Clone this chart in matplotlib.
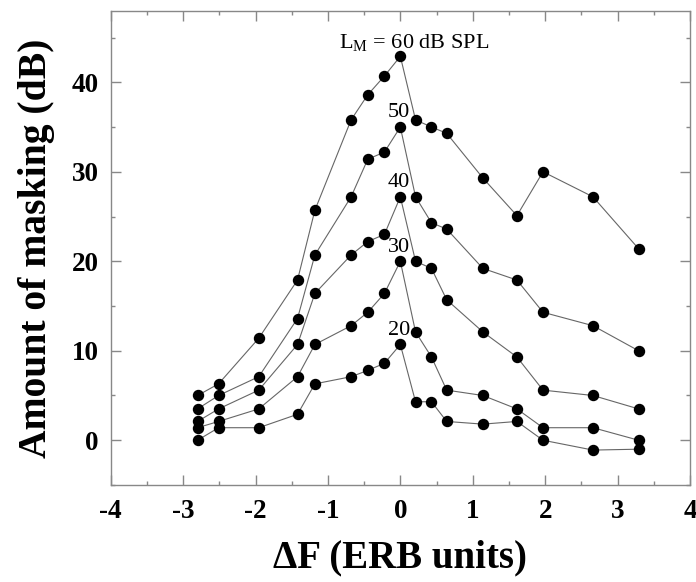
import matplotlib
matplotlib.use("Agg")
import matplotlib.pyplot as plt
from matplotlib.ticker import MultipleLocator, FuncFormatter

# frequency offset of the signal re. masker (ERB units)
dF = [-2.80, -2.51, -1.955, -1.42, -1.18, -0.68, -0.45, -0.22, 0.0,
      0.21, 0.43, 0.64, 1.14, 1.61, 1.97, 2.66, 3.29]

# amount of masking (dB) for each masker level
masking60 = [5.0, 6.3, 11.4, 17.9, 25.7, 35.8, 38.6, 40.7, 42.9,
             35.8, 35.0, 34.3, 29.3, 25.1, 30.0, 27.2, 21.4]
masking50 = [3.5, 5.0, 7.1, 13.6, 20.7, 27.2, 31.4, 32.2, 35.0,
             27.2, 24.3, 23.6, 19.2, 17.9, 14.3, 12.8, 10.0]
masking40 = [2.1, 3.5, 5.6, 10.7, 16.4, 20.7, 22.2, 23.0, 27.2,
             20.0, 19.2, 15.7, 12.1, 9.3, 5.6, 5.0, 3.5]
masking30 = [1.4, 2.1, 3.5, 7.1, 10.7, 12.8, 14.3, 16.4, 20.0,
             12.1, 9.3, 5.6, 5.0, 3.5, 1.4, 1.4, 0.0]
masking20 = [0.0, 1.4, 1.4, 2.9, 6.3, 7.1, 7.8, 8.6, 10.7,
             4.3, 4.3, 2.1, 1.8, 2.1, 0.0, -1.1, -1.0]

series = [masking60, masking50, masking40, masking30, masking20]
level_labels = [r"L$_\mathregular{M}$ = 60 dB SPL", "50", "40", "30", "20"]
label_pos = [(0.19, 44.4), (-0.02, 36.6), (-0.02, 28.8), (-0.02, 21.5), (-0.02, 12.3)]

plt.rcParams["font.family"] = "Liberation Serif"
plt.rcParams["mathtext.fontset"] = "custom"
plt.rcParams["mathtext.rm"] = "Liberation Serif"
plt.rcParams["axes.unicode_minus"] = False

fig = plt.figure(figsize=(6.96, 5.82), dpi=100)
ax = fig.add_axes([0.159, 0.1667, 0.9914 - 0.159, 0.9816 - 0.1667])

for ys in series:
    ax.plot(dF, ys, color="#666666", lw=0.8, marker="o", ms=7.2,
            mfc="black", mec="black", zorder=3)

for txt, (x, y) in zip(level_labels, label_pos):
    ax.text(x, y, txt, ha="center", va="center", fontsize=16, zorder=4)

ax.set_xlim(-4, 4)
ax.set_ylim(-5, 48)
ax.xaxis.set_major_locator(MultipleLocator(1))
ax.xaxis.set_minor_locator(MultipleLocator(0.5))
ax.yaxis.set_major_locator(MultipleLocator(10))
ax.yaxis.set_minor_locator(MultipleLocator(5))
ax.xaxis.set_major_formatter(FuncFormatter(lambda v, p: f"{v:g}".replace("\u2212", "-")))

ax.tick_params(which="both", direction="in", top=True, right=True,
               color="#888888", width=1)
ax.tick_params(which="major", length=7.2)
ax.tick_params(which="minor", length=3.2)
ax.tick_params(axis="x", which="major", pad=10, labelsize=19.5)
ax.tick_params(axis="y", which="major", pad=8.5, labelsize=19.5)
for lab in ax.get_xticklabels() + ax.get_yticklabels():
    lab.set_fontweight("bold")

for sp in ax.spines.values():
    sp.set_color("#888888")
    sp.set_linewidth(1)

ax.set_xlabel("\u0394F (ERB units)", fontsize=28, fontweight="bold", labelpad=11)
ax.set_ylabel("Amount of masking (dB)", fontsize=28.5, fontweight="bold", labelpad=12)

fig.savefig("out.png", dpi=100)
